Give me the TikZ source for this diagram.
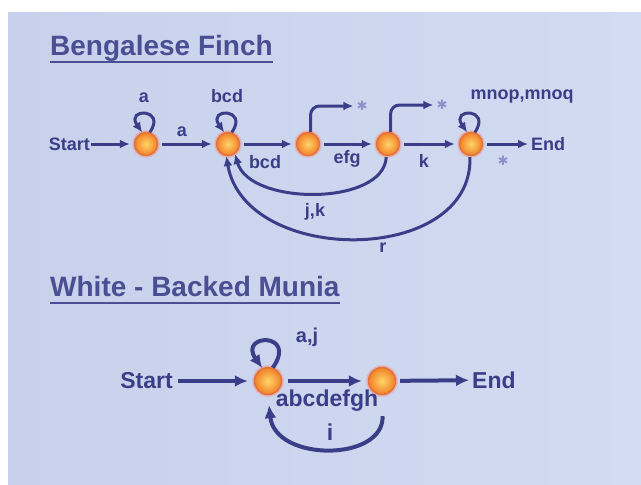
\documentclass[tikz,border=0pt]{standalone}
\usepackage{fontspec}
\setmainfont{Liberation Sans}
\newfontfamily\symfont{DejaVu Sans}
\usetikzlibrary{arrows.meta}

\definecolor{paperA}{RGB}{199,209,235}
\definecolor{paperB}{RGB}{210,219,241}
\definecolor{ink}{RGB}{58,62,136}
\definecolor{titleink}{RGB}{74,78,146}
\definecolor{starink}{RGB}{138,146,200}
\definecolor{coreY}{RGB}{255,214,104}
\definecolor{coreO}{RGB}{240,128,40}
\definecolor{rimO}{RGB}{230,112,58}
\definecolor{haloR}{RGB}{238,150,140}

\tikzset{
  bird/.style={circle, inner sep=0pt, minimum size=#1,
    inner color=coreY, outer color=coreO, draw=rimO, line width=1.4pt,
    preaction={draw=haloR, line width=4.5pt, draw opacity=0.55}},
  lbl/.style={text=ink, font=\bfseries\fontsize{18}{20}\selectfont, inner sep=1pt},
  lblB/.style={text=ink, font=\bfseries\fontsize{23}{25}\selectfont, inner sep=1pt},
  lblS/.style={text=ink, font=\bfseries\fontsize{20}{22}\selectfont, inner sep=1pt},
  ttl/.style={text=titleink, font=\bfseries\fontsize{28}{30}\selectfont, inner sep=0pt, anchor=base west},
  uline/.style={draw=titleink, line width=2.4pt},
  star/.style={text=starink, font=\symfont\fontsize{13}{14}\selectfont, inner sep=1pt},
  arr/.style={draw=ink, line width=3pt, -{Latex[length=10pt,width=9pt]}},
  arrB/.style={draw=ink, line width=4pt, -{Latex[length=13pt,width=12pt]}},
}

\begin{document}
\begin{tikzpicture}[x=1pt,y=1pt]
  % paper and frame
  \fill[white] (0,0) rectangle (641,-485);
  \shade[shading angle=135, left color=paperA, right color=paperB]
    (8,-12) rectangle (641,-485);
  \useasboundingbox (0,0) rectangle (641,-485);

  % ---------------- Bengalese Finch ----------------
  \node[ttl] (t1) at (50,-55) {Bengalese Finch};
  \draw[uline] ([yshift=-7pt]t1.base west) -- ([yshift=-7pt]t1.base east);

  \node[lbl, anchor=east] (st1) at (91,-144) {Start};
  \node[bird=23pt] (n1) at (146,-144) {};
  \node[bird=23pt] (n2) at (228,-144) {};
  \node[bird=23pt] (n3) at (308,-144) {};
  \node[bird=23pt] (n4) at (388,-144) {};
  \node[bird=23pt] (n5) at (471,-144) {};
  \node[lbl, anchor=west] (en1) at (530,-144) {End};

  % forward transitions
  \draw[arr, shorten >=4pt] (st1) -- (n1);
  \draw[arr, shorten <=4pt, shorten >=4pt] (n1) -- (n2);
  \draw[arr, shorten <=4pt, shorten >=4pt] (n2) -- (n3);
  \draw[arr, shorten <=4pt, shorten >=4pt] (n3) -- (n4);
  \draw[arr, shorten <=4pt, shorten >=4pt] (n4) -- (n5);
  \draw[arr, shorten <=4pt, shorten >=2pt] (n5) -- (en1);

  % self loops
  \draw[arr] (n1.72) .. controls +(55:30) and +(125:30) .. (n1.108);
  \draw[arr] (n2.72) .. controls +(55:30) and +(125:30) .. (n2.108);
  \draw[arr] (n5.72) .. controls +(55:30) and +(125:30) .. (n5.108);

  % labels
  \node[lbl] (la1) at (144,-98) {a};
  \node[lbl] (la2) at (227,-96) {bcd};
  \node[lbl] (la5) at (522,-97) {mnop,mnoq};
  \node[lbl] (e12) at (182,-132) {a};
  \node[lbl] (e23) at (265,-162) {bcd};
  \node[lbl] (e34) at (347,-159) {efg};
  \node[lbl] (e45) at (424,-161) {k};
  \node[star] (sE) at (503,-161) {✱};

  % exits marked with a star
  \node[star] (s3) at (362,-106) {✱};
  \node[star] (s4) at (442,-105) {✱};
  \draw[arr, rounded corners=9pt, shorten >=2pt] (n3.78) |- (s3.west);
  \draw[arr, rounded corners=9pt, shorten >=2pt] (n4.78) |- (s4.west);

  % returns to the second state
  \draw[arr, shorten <=1pt] (n4.262) .. controls (384,-206) and (250,-206) .. (n2.-55);
  \draw[arr, shorten <=1pt] (n5.265) .. controls (473,-266) and (245,-266) .. (n2.262);
  \node[lbl] (ljk) at (315,-212) {j,k};
  \node[lbl] (lr) at (383,-248) {r};

  % ---------------- White-Backed Munia ----------------
  \node[ttl] (t2) at (50,-296) {White - Backed Munia};
  \draw[uline] ([yshift=-7pt]t2.base west) -- ([yshift=-7pt]t2.base east);

  \node[lblB, anchor=east] (st2) at (174,-381) {Start};
  \node[bird=27pt] (m1) at (268,-381) {};
  \node[bird=27pt] (m2) at (382,-381) {};
  \node[lblB, anchor=west] (en2) at (471,-380) {End};

  \draw[arrB, shorten <=4pt, shorten >=6pt] (st2) -- (m1);
  \draw[arrB, shorten <=6pt, shorten >=6pt] (m1) -- (m2);
  \draw[arrB, shorten <=4pt, shorten >=2pt] (m2) -- (en2);

  \draw[arrB] (m1.70) .. controls +(55:44) and +(125:42) .. (m1.114);
  \node[lblS] (maj) at (307,-337) {a,j};
  \node[lblB] (mab) at (327,-401) {abcdefgh};

  \draw[arrB, shorten <=21pt, shorten >=10pt]
    (m2.270) .. controls (384,-462) and (275,-462) .. (m1.270);
  \node[lblB] (mi) at (330,-432) {i};
\end{tikzpicture}
\end{document}
